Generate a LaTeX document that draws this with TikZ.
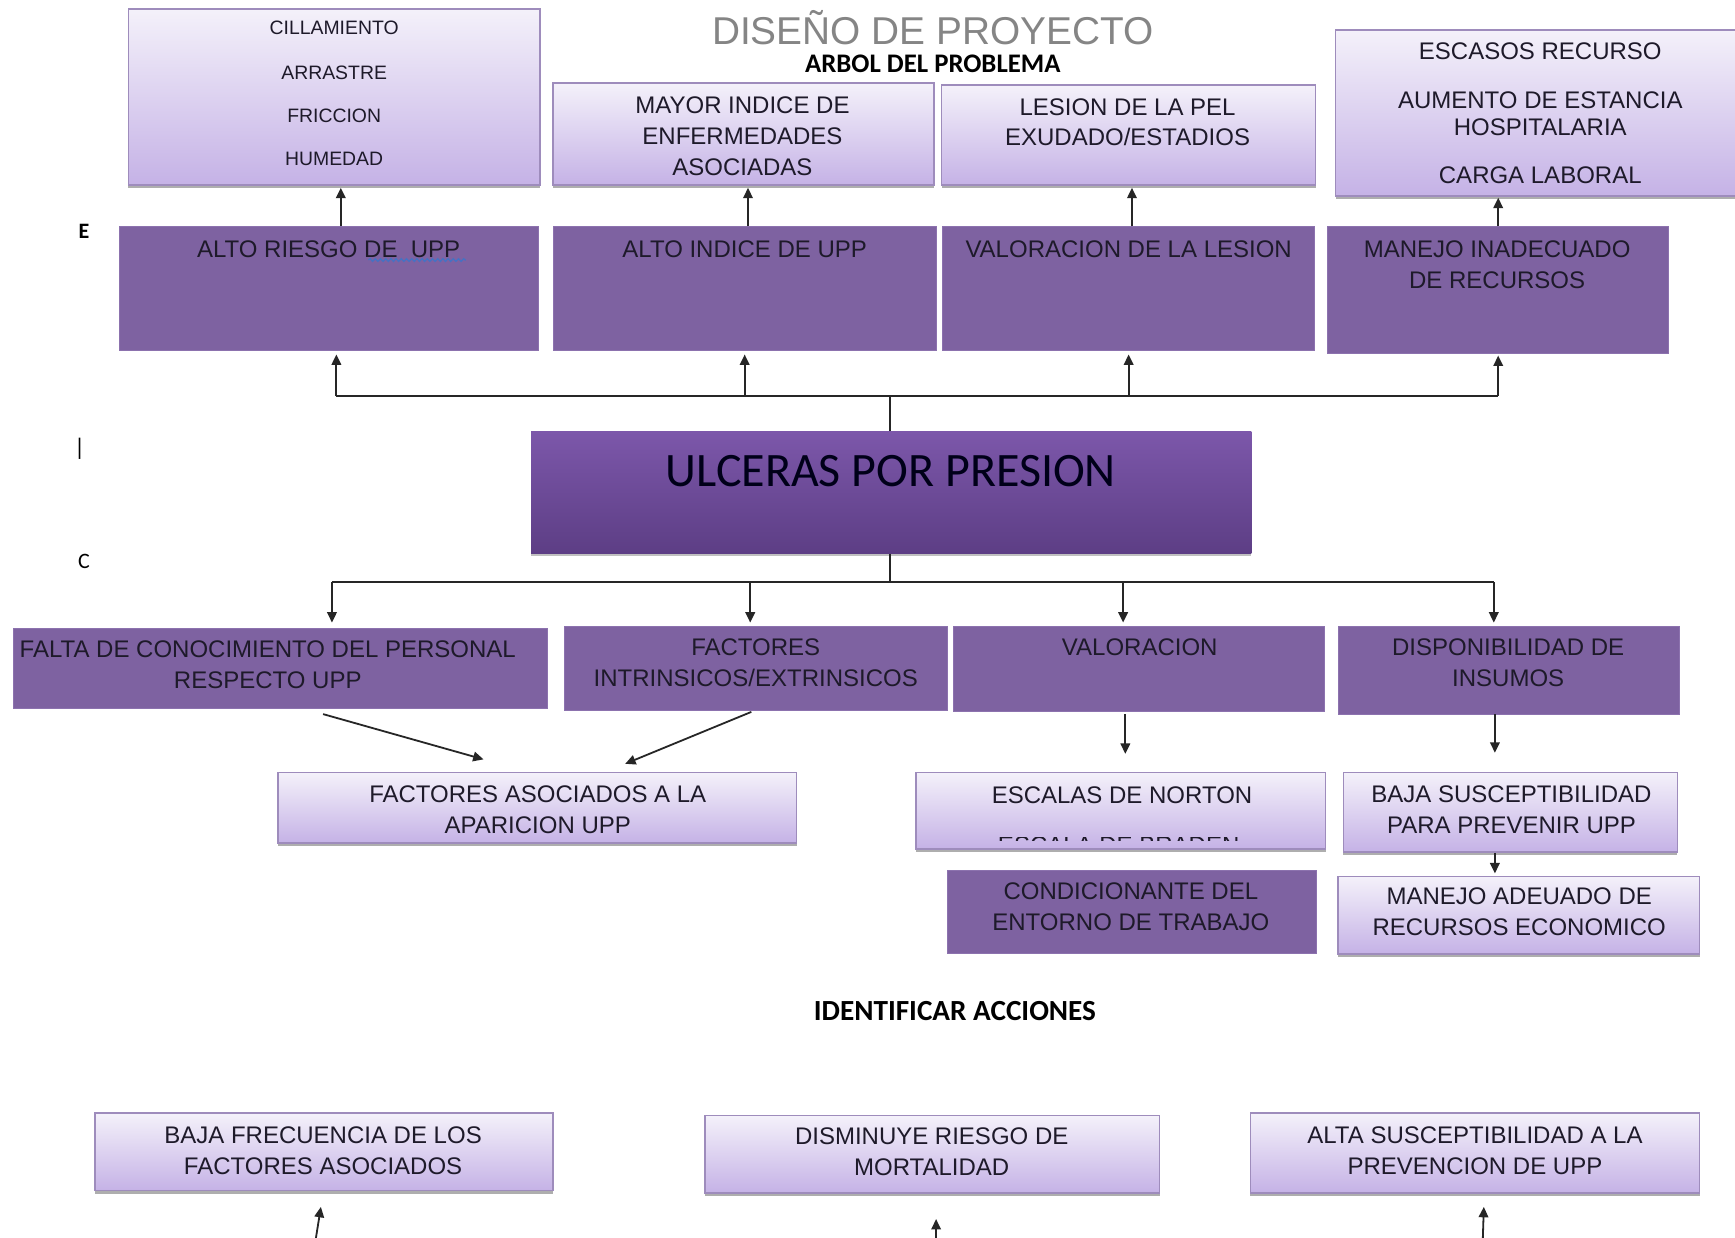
\documentclass[tikz,border=0pt]{standalone}
\usepackage{fontspec}
\setmainfont{Liberation Sans}
\newfontfamily\calfont{Carlito}
\usetikzlibrary{arrows.meta,shadows,calc,decorations.pathmorphing}
\definecolor{dkpur}{HTML}{7E62A1}
\definecolor{dkedge}{HTML}{8C72AE}
\definecolor{ltTop}{HTML}{F4F1FA}
\definecolor{ltBot}{HTML}{C5B2E6}
\definecolor{ltEdge}{HTML}{9E8CBC}
\definecolor{ulTop}{HTML}{7C57AA}
\definecolor{ulBot}{HTML}{5D3E85}
\definecolor{txtc}{HTML}{1E1A2A}
\definecolor{grayt}{HTML}{858585}
\definecolor{wavyc}{HTML}{4472C4}
\newcommand\rectnode[6]{\node[#1,minimum width={(#4-#2)*0.5533pt},minimum height={(#5-#3)*0.5533pt}] (#6) at ({(#2+#4)/2},{(#3+#5)/2}) {};}
\begin{document}
\begin{tikzpicture}[x=0.5533pt,y=-0.5533pt,
  darkbox/.style={fill=dkpur,draw=dkedge,line width=0.4pt,inner sep=0},
  lightbox/.style={top color=ltTop,bottom color=ltBot,draw=ltEdge,line width=0.8pt,inner sep=0,
     drop shadow={shadow xshift=0pt,shadow yshift=-1.6pt,opacity=0.45,fill=black!70}},
  ulcbox/.style={top color=ulTop,bottom color=ulBot,draw=none,inner sep=0,
     drop shadow={shadow xshift=0pt,shadow yshift=-1.6pt,opacity=0.35,fill=black!70}},
  txt/.style={inner sep=0,align=center,text=txtc,font=\fontsize{12}{15.5}\selectfont},
  smalltxt/.style={inner sep=0,align=center,text=txtc,font=\fontsize{9.7}{11}\selectfont},
  ln/.style={line width=0.9pt,draw=black!85},
  arr/.style={line width=0.9pt,draw=black!85,-{Triangle[length=5.2pt,width=4.8pt]}},
  wavy/.style={draw=wavyc,line width=0.6pt,decorate,decoration={snake,amplitude=0.7pt,segment length=2.6pt}}
]
\useasboundingbox (0,0) rectangle (1568,1118);
\fill[white] (0,0) rectangle (1568,1118);

% ---- titles
\node[inner sep=0,text=grayt,font=\fontsize{19.4}{22}\selectfont] (title) at (843,25) {DISEÑO DE PROYECTO};
\node[inner sep=0,text=black,font=\calfont\bfseries\fontsize{13.4}{15}\selectfont] (arbol) at (843,58) {ARBOL DEL PROBLEMA};
\node[inner sep=0,text=black,font=\calfont\bfseries\fontsize{11}{13}\selectfont] (lblE) at (76,209) {E};
\node[inner sep=0,text=black,font=\calfont\fontsize{12}{13}\selectfont] (lblI) at (72,406) {|};
\node[inner sep=0,text=black,font=\calfont\fontsize{11}{13}\selectfont] (lblC) at (76,507) {C};
\node[inner sep=0,text=black,font=\calfont\bfseries\fontsize{14.6}{16}\selectfont] (ident) at (863,914) {IDENTIFICAR ACCIONES};

% ---- top light boxes (effects)
\rectnode{lightbox}{116}{8}{488}{167}{l1}
\rectnode{lightbox}{500}{75}{844}{167}{l2}
\rectnode{lightbox}{851}{77}{1189}{167}{l3}
\rectnode{lightbox}{1207}{27}{1578}{177}{l4}
\node[smalltxt] (l1a) at (302,25) {CILLAMIENTO};
\node[smalltxt] (l1b) at (302,66) {ARRASTRE};
\node[smalltxt] (l1c) at (302,105) {FRICCION};
\node[smalltxt] (l1d) at (302,144) {HUMEDAD};
\node[txt] (l2t) at (671,123) {MAYOR INDICE DE\\ENFERMEDADES\\ASOCIADAS};
\node[txt,font=\fontsize{12}{15}\selectfont] (l3t) at (1019,110.5) {LESION DE LA PEL\\EXUDADO/ESTADIOS};
\node[txt] (l4a) at (1392,46) {ESCASOS RECURSO};
\node[txt,font=\fontsize{12}{13.3}\selectfont] (l4b) at (1392,103) {AUMENTO DE ESTANCIA\\HOSPITALARIA};
\node[txt] (l4c) at (1392,158) {CARGA LABORAL};

% ---- dark row 1
\rectnode{darkbox}{108}{205}{487}{317}{d1}
\rectnode{darkbox}{500}{205}{846}{317}{d2}
\rectnode{darkbox}{852}{205}{1188}{317}{d3}
\rectnode{darkbox}{1200}{205}{1508}{319}{d4}
\node[txt] (d1t) at (297,225) {ALTO RIESGO DE\ \ UPP};
\draw[wavy] (333,235) -- (421,235);
\node[txt] (d2t) at (673,225) {ALTO INDICE DE UPP};
\node[txt] (d3t) at (1020,225) {VALORACION DE LA LESION};
\node[txt] (d4t) at (1353,239) {MANEJO INADECUADO\\DE RECURSOS};

\draw[arr] (308,0 |- d1.north) -- ($(308,0 |- l1.south)+(0,2)$);
\draw[arr] (676,0 |- d2.north) -- ($(676,0 |- l2.south)+(0,2)$);
\draw[arr] (1023,0 |- d3.north) -- ($(1023,0 |- l3.south)+(0,2)$);
\draw[arr] (1354,0 |- d4.north) -- ($(1354,0 |- l4.south)+(0,1)$);

% ---- central problem
\rectnode{ulcbox}{480}{390}{1131}{500}{ulc}
\node[inner sep=0,text=black!90!blue,font=\calfont\fontsize{24}{26}\selectfont] (ulct) at (805,426) {ULCERAS POR PRESION};

\coordinate (tbar) at (0,358);
\coordinate (bbar) at (0,526);
\draw[ln] (804,0 |- ulc.north) -- (804,0 |- tbar);
\draw[ln] (304,0 |- tbar) -- (1354,0 |- tbar);
\draw[arr] (304,0 |- tbar) -- ($(304,0 |- d1.south)+(0,3)$);
\draw[arr] (673,0 |- tbar) -- ($(673,0 |- d2.south)+(0,3)$);
\draw[arr] (1020,0 |- tbar) -- ($(1020,0 |- d3.south)+(0,3)$);
\draw[arr] (1354,0 |- tbar) -- ($(1354,0 |- d4.south)+(0,2)$);

\draw[ln] (804,0 |- ulc.south) -- (804,0 |- bbar);
\draw[ln] (300,0 |- bbar) -- (1350,0 |- bbar);

% ---- dark row 2 (causes)
\rectnode{darkbox}{12}{568}{495}{640}{f1}
\rectnode{darkbox}{510}{566}{856}{642}{f2}
\rectnode{darkbox}{862}{566}{1197}{643}{f3}
\rectnode{darkbox}{1210}{566}{1518}{646}{f4}
\node[txt] (f1t) at (242,601) {FALTA DE CONOCIMIENTO DEL PERSONAL\\RESPECTO UPP};
\node[txt] (f2t) at (683,599) {FACTORES\\INTRINSICOS/EXTRINSICOS};
\node[txt] (f3t) at (1030,585) {VALORACION};
\node[txt] (f4t) at (1363,599) {DISPONIBILIDAD DE\\INSUMOS};

\draw[arr] (300,0 |- bbar) -- ($(300,0 |- f1.north)+(0,-5)$);
\draw[arr] (678,0 |- bbar) -- ($(678,0 |- f2.north)+(0,-3)$);
\draw[arr] (1015,0 |- bbar) -- ($(1015,0 |- f3.north)+(0,-3)$);
\draw[arr] (1350,0 |- bbar) -- ($(1350,0 |- f4.north)+(0,-3)$);

% ---- row 3
\rectnode{lightbox}{251}{698}{720}{762}{fa}
\rectnode{lightbox}{828}{698}{1198}{767}{en}
\rectnode{lightbox}{1214}{698}{1516}{770}{bs}
\rectnode{darkbox}{856}{787}{1190}{862}{cd}
\rectnode{lightbox}{1209}{792}{1536}{862}{ma}
\node[txt] (fat) at (486,732) {FACTORES ASOCIADOS A LA\\APARICION UPP};
\node[txt] (ent) at (1014,719) {ESCALAS DE NORTON};
\begin{scope}
  \clip (880,756.5) rectangle (1140,759.5);
  \node[txt,anchor=north] (enb) at (1011,756) {ESCALA DE BRADEN};
\end{scope}
\node[txt] (bst) at (1366,732) {BAJA SUSCEPTIBILIDAD\\PARA PREVENIR UPP};
\node[txt] (cdt) at (1022,819) {CONDICIONANTE DEL\\ENTORNO DE TRABAJO};
\node[txt] (mat) at (1373,824) {MANEJO ADEUADO DE\\RECURSOS ECONOMICO};

\draw[arr] ($(292,0 |- f1.south)+(0,5)$) -- ($(437,0 |- fa.north)+(0,-11)$);
\draw[arr] ($(679,0 |- f2.south)+(0,1)$) -- ($(565,0 |- fa.north)+(0,-7)$);
\draw[arr] ($(1017,0 |- f3.south)+(0,2)$) -- ($(1017,0 |- en.north)+(0,-16)$);
\draw[arr] ($(1351,0 |- f4.south)+(0,-1)$) -- ($(1351,0 |- bs.north)+(0,-17)$);
\draw[arr] (1351,0 |- bs.south) -- ($(1351,0 |- ma.north)+(0,-2)$);

% ---- bottom (actions)
\rectnode{lightbox}{86}{1006}{500}{1076}{b1}
\rectnode{lightbox}{637}{1008}{1048}{1078}{b2}
\rectnode{lightbox}{1130}{1006}{1536}{1078}{b3}
\node[txt] (b1t) at (292,1040) {BAJA FRECUENCIA DE LOS\\FACTORES ASOCIADOS};
\node[txt] (b2t) at (842,1041) {DISMINUYE RIESGO DE\\MORTALIDAD};
\node[txt] (b3t) at (1333,1040) {ALTA SUSCEPTIBILIDAD A LA\\PREVENCION DE UPP};

\coordinate (e1) at (285,1122);
\coordinate (e2) at (846,1122);
\coordinate (e3) at (1340,1122);
\draw[arr] (e1) -- ($(290,0 |- b1.south)+(0,14)$);
\draw[arr] (e2) -- ($(846,0 |- b2.south)+(0,23)$);
\draw[arr] (e3) -- ($(1341,0 |- b3.south)+(0,12)$);
\end{tikzpicture}
\end{document}
